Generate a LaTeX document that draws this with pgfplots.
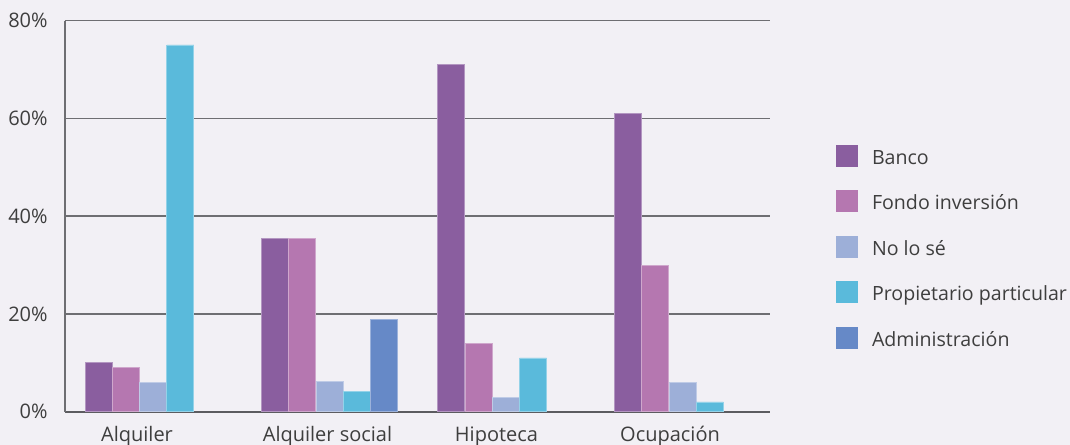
\documentclass[border=0pt]{standalone}
\usepackage{pgfplots}
\pgfplotsset{compat=1.18}
\usepackage{fontspec}
\setmainfont{Open Sans}

\definecolor{bg}{HTML}{F2F0F5}
\definecolor{gridc}{HTML}{6E6E72}
\definecolor{zeroc}{HTML}{5C5C60}
\definecolor{txt}{HTML}{3E3E3E}
\definecolor{cBanco}{HTML}{8A5E9F}
\definecolor{cFondo}{HTML}{B577B0}
\definecolor{cNo}{HTML}{9DAFD8}
\definecolor{cProp}{HTML}{5ABADB}
\definecolor{cAdmin}{HTML}{6689C7}

\pgfplotsset{
 layers/barsunder/.define layer set={axis background,axis grid,axis ticks,main,axis lines,axis tick labels,axis descriptions,axis foreground}{},
 mybar/.style={ybar,bar width=27,bar shift=0pt,fill=#1,draw=#1!65!white,line width=0.4pt,
  legend image code/.code={\fill[##1,draw=none] (0pt,-3.4pt) rectangle (11pt,7.6pt);}},
}

\begin{document}
\begin{tikzpicture}[font=\fontsize{10}{12}\selectfont]
 \begin{axis}[
  scale only axis,width=352.5pt,height=195.6pt,
  set layers=barsunder,clip=false,
  xmin=65,xmax=770,ymin=0,ymax=80,
  axis x line*=bottom,axis y line*=left,
  axis line style={-},
  x axis line style={line width=1pt,color=zeroc},
  y axis line style={line width=0.75pt,color=gridc},
  ymajorgrids,major grid style={line width=0.75pt,color=gridc},
  major tick length=0pt,
  ytick={0,20,40,60,80},yticklabels={0\%,20\%,40\%,60\%,80\%},
  xtick={137,327.5,496.5,670},
  xticklabels={Alquiler,Alquiler social,Hipoteca,Ocupación},
  yticklabel style={inner sep=0pt,anchor=east,xshift=-8.5pt,text=txt},
  xticklabel style={inner sep=0pt,anchor=base,yshift=-14.8pt,text=txt,text depth=0pt},
  legend cell align=left,
  legend style={at={(1.0936,0.6817)},anchor=north west,draw=none,fill=none,
   inner sep=0pt,outer sep=0pt,row sep=9.6pt,text=txt,
   font=\fontsize{9.8}{12}\selectfont,
   nodes={inner sep=0pt,text height=7.6pt,text depth=3.4pt},
   /tikz/every odd column/.append style={column sep=7pt}},
 ]
  \begin{pgfonlayer}{axis background}
   \fill[bg] (rel axis cs:-0.0922,-0.0851) rectangle (rel axis cs:1.4255,1.0524);
  \end{pgfonlayer}
  \addplot[mybar=cBanco] coordinates {(98.7,10) (275.3,35.5) (451.3,71) (628.2,61)};
  \addlegendentry{Banco}
  \addplot[mybar=cFondo] coordinates {(125.7,9) (302.3,35.5) (479,14) (655.2,30)};
  \addlegendentry{Fondo inversión}
  \addplot[mybar=cNo] coordinates {(153.3,6) (329.5,6.1) (506,3) (682.8,6)};
  \addlegendentry{No lo sé}
  \addplot[mybar=cProp] coordinates {(180.3,75) (356.7,4.2) (533,11) (709.8,2)};
  \addlegendentry{Propietario particular}
  \addplot[mybar=cAdmin] coordinates {(383.5,18.8)};
  \addlegendentry{Administración}
 \end{axis}
\end{tikzpicture}
\end{document}
